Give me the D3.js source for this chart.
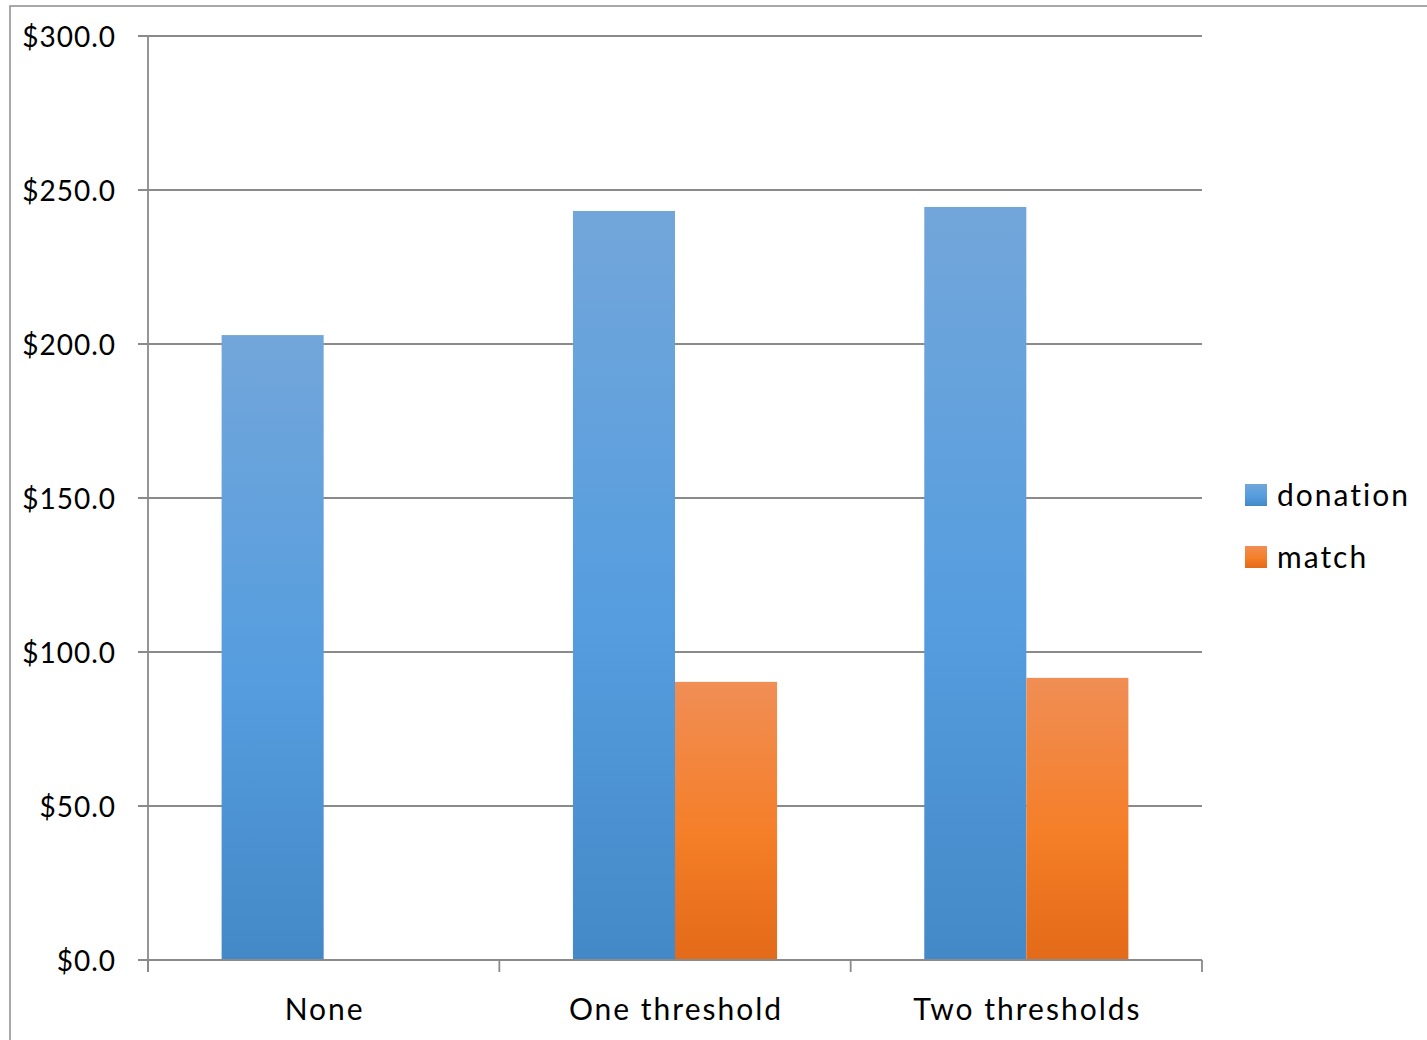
<!DOCTYPE html>
<html>
<head>
<meta charset="utf-8">
<script src="https://cdn.jsdelivr.net/npm/d3@7"></script>
<style>
  html, body { margin: 0; padding: 0; background: #fff; }
  svg { display: block; }
  text { font-family: Lato, "Open Sans", sans-serif; fill: #000; }
</style>
</head>
<body>
<svg id="chart" width="1427" height="1040"></svg>
<script>
// Average amounts by matching-threshold condition
const categories = ["None", "One threshold", "Two thresholds"];
const seriesNames = ["donation", "match"];
const donation = [202.9, 243.2, 244.5];
const match = [null, 90.3, 91.6];
const yTicks = [0, 50, 100, 150, 200, 250, 300];

const W = 1427, H = 1040;
const margin = { left: 148, right: W - 1202, top: 36, bottom: H - 960 };

const svg = d3.select("#chart");
const defs = svg.append("defs");

// Vertical gradient fills for each series
const gradients = {
  donation: [["0%", "#72a6da"], ["55%", "#559ddf"], ["100%", "#4489c7"]],
  match: [["0%", "#f08e55"], ["55%", "#f57e28"], ["100%", "#e36a18"]]
};
Object.entries(gradients).forEach(([name, stops]) => {
  const g = defs.append("linearGradient")
    .attr("id", "grad-" + name)
    .attr("x1", 0).attr("y1", 0).attr("x2", 0).attr("y2", 1);
  stops.forEach(([o, c]) => g.append("stop").attr("offset", o).attr("stop-color", c));
});

// Outer chart border
svg.append("rect")
  .attr("x", 10).attr("y", 6)
  .attr("width", 1430).attr("height", 1060)
  .attr("fill", "none").attr("stroke", "#8c8c8c").attr("stroke-width", 1.5);

const x0 = d3.scaleBand()
  .domain(categories)
  .range([margin.left, W - margin.right])
  .paddingInner(0.419)
  .paddingOuter(0.2095);

const x1 = d3.scaleBand()
  .domain(seriesNames)
  .range([0, x0.bandwidth()]);

const y = d3.scaleLinear()
  .domain([0, 300])
  .range([H - margin.bottom, margin.top]);

// Horizontal gridlines (with tick stubs to the left)
svg.append("g")
  .selectAll("line")
  .data(yTicks)
  .join("line")
  .attr("x1", margin.left - 10)
  .attr("x2", W - margin.right)
  .attr("y1", d => y(d))
  .attr("y2", d => y(d))
  .attr("stroke", "#8a8a8a")
  .attr("stroke-width", 1.8);

// Y axis labels
const fmt = d => "$" + d3.format(".1f")(d);
svg.append("g")
  .selectAll("text")
  .data(yTicks)
  .join("text")
  .attr("x", 116)
  .attr("y", d => y(d) + 1)
  .attr("dy", "0.36em")
  .attr("text-anchor", "end")
  .attr("font-size", 28)
  .attr("letter-spacing", 1)
  .text(fmt);

// Bars
const rows = categories.map((c, i) => ({ cat: c, values: [
  { key: "donation", v: donation[i] },
  { key: "match", v: match[i] }
]}));

const groups = svg.append("g")
  .selectAll("g")
  .data(rows)
  .join("g")
  .attr("transform", d => `translate(${x0(d.cat)},0)`);

groups.selectAll("rect")
  .data(d => d.values.filter(v => v.v != null))
  .join("rect")
  .attr("x", d => x1(d.key))
  .attr("width", x1.bandwidth())
  .attr("y", d => y(d.v))
  .attr("height", d => y(0) - y(d.v))
  .attr("fill", d => `url(#grad-${d.key})`);

// Axes lines
svg.append("line")
  .attr("x1", margin.left).attr("x2", margin.left)
  .attr("y1", margin.top).attr("y2", y(0) + 12)
  .attr("stroke", "#8a8a8a").attr("stroke-width", 1.8);
svg.append("line")
  .attr("x1", margin.left - 10).attr("x2", W - margin.right)
  .attr("y1", y(0)).attr("y2", y(0))
  .attr("stroke", "#8a8a8a").attr("stroke-width", 1.8);

// Category boundary ticks on the x axis
const step = x0.step();
const bounds = d3.range(categories.length + 1).map(i => margin.left + i * step);
svg.append("g")
  .selectAll("line")
  .data(bounds)
  .join("line")
  .attr("x1", d => d).attr("x2", d => d)
  .attr("y1", y(0)).attr("y2", y(0) + 12)
  .attr("stroke", "#8a8a8a").attr("stroke-width", 1.8);

// Category labels
svg.append("g")
  .selectAll("text")
  .data(categories)
  .join("text")
  .attr("x", d => x0(d) + x0.bandwidth() / 2 + 1)
  .attr("y", 1020)
  .attr("text-anchor", "middle")
  .attr("font-size", 30)
  .attr("letter-spacing", 2)
  .text(d => d);

// Legend
const legend = svg.append("g")
  .selectAll("g")
  .data(seriesNames)
  .join("g")
  .attr("transform", (d, i) => `translate(1245,${484 + i * 62})`);
legend.append("rect")
  .attr("width", 22).attr("height", 22)
  .attr("fill", d => `url(#grad-${d})`);
legend.append("text")
  .attr("x", 32).attr("y", 22)
  .attr("font-size", 30)
  .attr("letter-spacing", 2)
  .text(d => d);
</script>
</body>
</html>
